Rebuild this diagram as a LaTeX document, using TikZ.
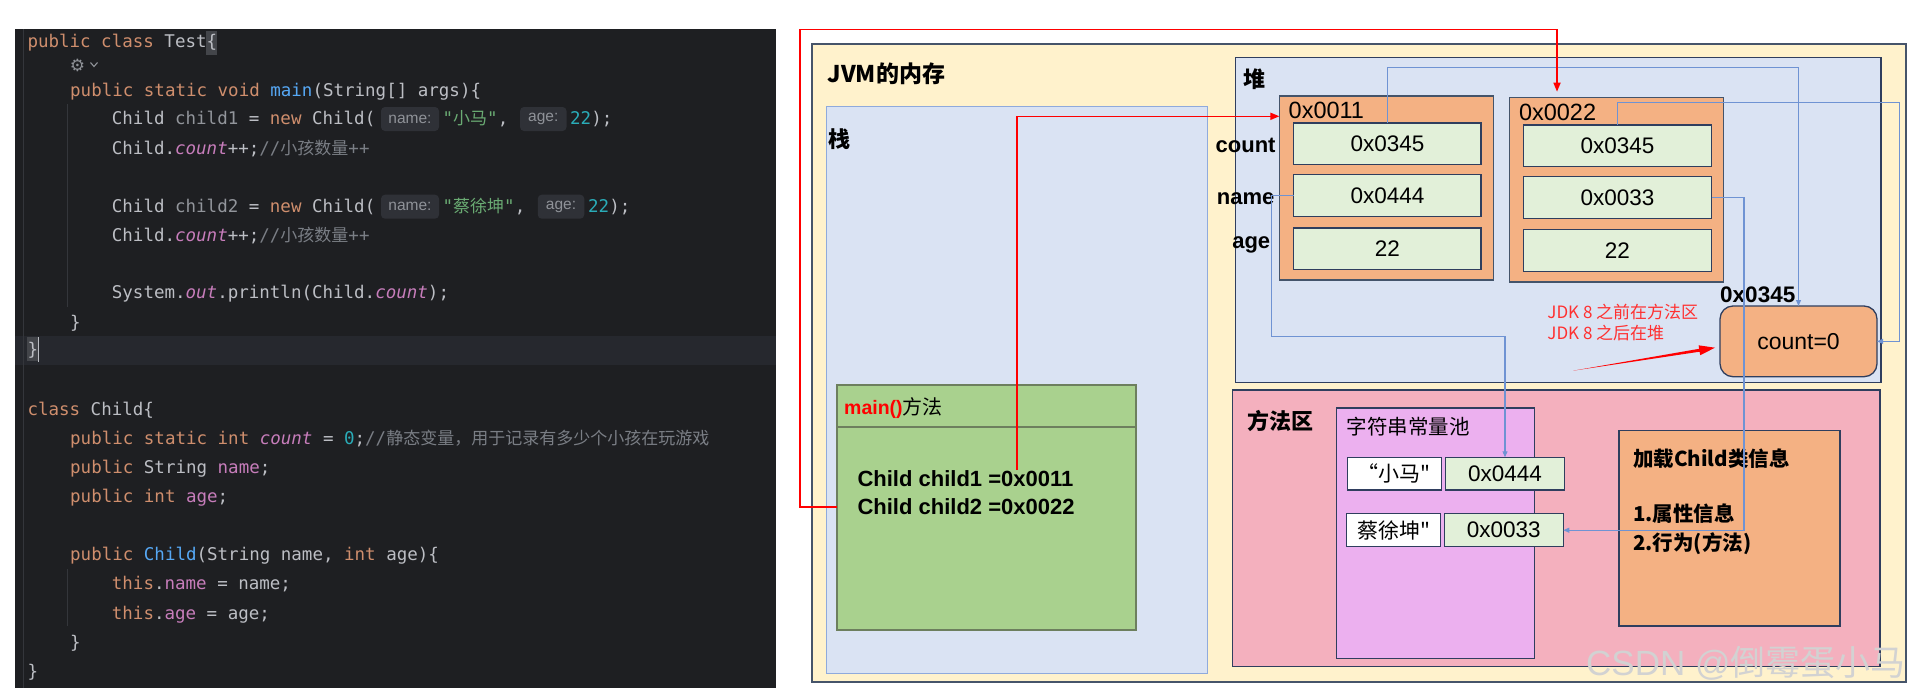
\documentclass[tikz,border=0pt]{standalone}
\usepackage{fontspec}
\setmainfont{Liberation Sans}[Ligatures=TeXOff]
\newfontfamily\cjk{Noto Sans CJK SC}[Ligatures=TeXOff]
\newfontfamily\codefont{DejaVu Sans Mono}[Ligatures=TeXOff]
\newfontfamily\symfont{DejaVu Sans}
\usetikzlibrary{arrows.meta}
% code colours
\definecolor{jbg}{HTML}{1E1F22}
\definecolor{jcur}{HTML}{26282E}
\definecolor{jkw}{HTML}{CF8E6D}
\definecolor{jtx}{HTML}{BCBEC4}
\definecolor{jvar}{HTML}{92959B}
\definecolor{jfn}{HTML}{56A8F5}
\definecolor{jfld}{HTML}{C77DBB}
\definecolor{jstr}{HTML}{6AAB73}
\definecolor{jnum}{HTML}{2AACB8}
\definecolor{jcmt}{HTML}{7A7E85}
\definecolor{jhbg}{HTML}{2F3137}
\definecolor{jhtx}{HTML}{8F9298}
\definecolor{jbr}{HTML}{43454A}
\definecolor{jguide}{HTML}{34363B}
% diagram colours
\definecolor{dyel}{HTML}{FFF2CC}
\definecolor{dyelb}{HTML}{46546A}
\definecolor{dblue}{HTML}{DAE3F3}
\definecolor{dbluel}{HTML}{8FAADC}
\definecolor{dnavy}{HTML}{2F3E5E}
\definecolor{dobj}{HTML}{44546A}
\definecolor{dorange}{HTML}{F4B183}
\definecolor{dgreen}{HTML}{E2F0D9}
\definecolor{dmain}{HTML}{A9D18E}
\definecolor{dmainb}{HTML}{6D7F5E}
\definecolor{dpink}{HTML}{F4B0BE}
\definecolor{dpool}{HTML}{ECB0EF}
\definecolor{dline}{HTML}{6F93D3}
\definecolor{dred}{HTML}{FF0000}
\definecolor{dredt}{HTML}{FF3030}
\definecolor{dwm}{HTML}{D2D2D2}
% code helpers
\newcommand{\ckw}[1]{\textcolor{jkw}{#1}}
\newcommand{\cvar}[1]{\textcolor{jvar}{#1}}
\newcommand{\cfn}[1]{\textcolor{jfn}{#1}}
\newcommand{\cfld}[1]{\textcolor{jfld}{#1}}
\newcommand{\cfldi}[1]{\textcolor{jfld}{\itshape #1}}
\newcommand{\cstr}[1]{\textcolor{jstr}{#1}}
\newcommand{\cnum}[1]{\textcolor{jnum}{#1}}
\newcommand{\ccmt}[1]{\textcolor{jcmt}{#1}}
\newcommand{\zh}[1]{{\cjk\fontsize{17}{21}\selectfont #1}}
\begin{document}
\begin{tikzpicture}[x=1pt,y=-1pt,
  code/.style={anchor=base west,inner sep=0pt,text=jtx,font=\codefont\fontsize{17.5}{21}\selectfont},
  hint/.style={fill=jhbg,rounded corners=4pt,inner sep=0pt,minimum height=24pt,text=jhtx,font=\fontsize{15.5}{16}\selectfont},
  area/.style={draw,anchor=north west,inner sep=0pt,outer sep=0pt},
  field/.style={area,fill=dgreen,draw=dnavy,line width=1.5pt,font=\fontsize{22.5}{24}\selectfont},
  dtext/.style={anchor=base west,inner sep=0pt},
  redline/.style={draw=dred,line width=1.6pt,-{Triangle[length=9pt,width=7pt]}},
  blueline/.style={draw=dline,line width=1.1pt,-{Triangle[length=6pt,width=5pt]}},
]
\useasboundingbox (0,0) rectangle (1919,696);
\fill[white] (0,0) rectangle (1919,696);

% ================= code panel =================
\node[area,draw=none,fill=jbg,minimum width=761pt,minimum height=659pt] (codepanel) at (15,29) {};
\fill[jcur] (15,336) rectangle (776,365);
\draw[jguide,line width=1pt] (23.5,29) -- (23.5,688);
\draw[jguide,line width=1pt] (67.5,104) -- (67.5,307);
\draw[jguide,line width=1pt] (67.5,569) -- (67.5,626);
\fill[jbr] (206.4,31) rectangle (217,55);
\fill[jbr] (27.3,337) rectangle (37.8,361);
\draw[jtx,line width=1pt] (38.3,337) -- (38.3,362);

\node[code] (l0) at (27.3,47.8) {\ckw{public class} Test\{};
\node[inner sep=0pt,text=jhtx,font=\symfont\fontsize{17}{17}\selectfont] (gear) at (77.5,65) {⚙};
\draw[jhtx,line width=1.1pt] (90.5,62.5) -- (94,66.5) -- (97.5,62.5);
\node[code] (l2) at (70,96.2) {\ckw{public static void} \cfn{main}(String[] args)\{};

\node[code] (l3a) at (111.7,124.5) {Child \cvar{child1} = \ckw{new} Child(};
\node[hint,minimum width=58pt] (l3h1) at (410,119) {name:};
\node[code] (l3b) at (442.5,124.5) {\cstr{"\zh{小马}"},};
\node[hint,minimum width=46.5pt] (l3h2) at (543.3,119) {age:};
\node[code] (l3c) at (570,124.5) {\cnum{22});};

\node[code] (l4) at (111.7,154.5) {Child.\cfldi{count}++;\ccmt{//\zh{小孩数量}++}};

\node[code] (l6a) at (111.7,212.2) {Child \cvar{child2} = \ckw{new} Child(};
\node[hint,minimum width=58pt] (l6h1) at (410,206.7) {name:};
\node[code] (l6b) at (442.5,212.2) {\cstr{"\zh{蔡徐坤}"},};
\node[hint,minimum width=46.5pt] (l6h2) at (561,206.7) {age:};
\node[code] (l6c) at (588,212.2) {\cnum{22});};

\node[code] (l7) at (111.7,241.2) {Child.\cfldi{count}++;\ccmt{//\zh{小孩数量}++}};
\node[code] (l9) at (111.7,298.8) {System.\cfldi{out}.println(Child.\cfldi{count});};
\node[code] (l10) at (70,328.2) {\}};
\node[code] (l11) at (27.3,355.5) {\}};
\node[code] (l13) at (27.3,415.5) {\ckw{class} Child\{};
\node[code] (l14) at (70,444.8) {\ckw{public static int} \cfldi{count} = \cnum{0};\ccmt{//\zh{静态变量，用于记录有多少个小孩在玩游戏}}};
\node[code] (l15) at (70,473.2) {\ckw{public} String \cfld{name};};
\node[code] (l16) at (70,502.8) {\ckw{public int} \cfld{age};};
\node[code] (l18) at (70,560.5) {\ckw{public} \cfn{Child}(String name, \ckw{int} age)\{};
\node[code] (l19) at (111.7,589.5) {\ckw{this}.\cfld{name} = name;};
\node[code] (l20) at (111.7,619.5) {\ckw{this}.\cfld{age} = age;};
\node[code] (l21) at (70,648.2) {\}};
\node[code] (l22) at (27.3,677.2) {\}};

% ================= memory diagram =================
\node[area,fill=dyel,draw=dyelb,line width=1.5pt,minimum width=1094pt,minimum height=638pt] (jvm) at (812,44) {};
\node[area,fill=dblue,draw=dbluel,line width=1pt,minimum width=381pt,minimum height=566.6pt] (stack) at (826.4,106.7) {};
\node[area,fill=dblue,draw=dnavy,line width=1.4pt,minimum width=645.7pt,minimum height=325pt] (heap) at (1235.3,57.7) {};
\node[area,fill=dmain,draw=dmainb,line width=1.1pt,minimum width=299pt,minimum height=245pt] (mainb) at (837,385) {};
\coordinate (mdiv) at (0,427);
\draw[dmainb,line width=1.1pt] (mainb.west |- mdiv) -- (mainb.east |- mdiv);
\node[area,fill=dpink,draw=dnavy,line width=1.3pt,minimum width=647.2pt,minimum height=276.7pt] (meth) at (1232.8,390) {};
\node[area,fill=dpool,draw=dnavy,line width=1.3pt,minimum width=197.6pt,minimum height=250.7pt] (pool) at (1336.7,408) {};
\node[area,fill=dorange,draw=dnavy,line width=1.3pt,minimum width=221pt,minimum height=195.3pt] (cls) at (1619,430.7) {};

\node[area,fill=dorange,draw=dobj,line width=1.4pt,minimum width=214.2pt,minimum height=184pt] (obj1) at (1279.4,96) {};
\node[field,minimum width=187.6pt,minimum height=41.3pt] (o1f1) at (1293.6,123) {0x0345};
\node[field,minimum width=187.6pt,minimum height=42pt] (o1f2) at (1293.6,174.7) {0x0444};
\node[field,minimum width=187.6pt,minimum height=41.3pt] (o1f3) at (1293.6,228) {22};
\node[area,fill=dorange,draw=dobj,line width=1.4pt,minimum width=214.2pt,minimum height=184.3pt] (obj2) at (1509.2,97.7) {};
\node[field,minimum width=188.1pt,minimum height=41.7pt] (o2f1) at (1523.4,125) {0x0345};
\node[field,minimum width=188.1pt,minimum height=41.6pt] (o2f2) at (1523.4,176.7) {0x0033};
\node[field,minimum width=188.1pt,minimum height=41.6pt] (o2f3) at (1523.4,229.7) {22};

\node[area,fill=dorange,draw=dnavy,line width=1.3pt,rounded corners=13pt,minimum width=157pt,minimum height=70.7pt,font=\fontsize{23}{24}\selectfont] (cnt) at (1720,306) {count=0};

\node[area,fill=white,draw=dnavy,line width=1.3pt,minimum width=94pt,minimum height=32.7pt,font=\cjk\fontsize{21}{22}\selectfont] (s1k) at (1347.3,457.3) {“小马"};
\node[field,line width=1.3pt,minimum width=119.4pt,minimum height=32.7pt] (s1v) at (1445.3,457.3) {0x0444};
\node[area,fill=white,draw=dnavy,line width=1.3pt,minimum width=94.4pt,minimum height=33pt,font=\cjk\fontsize{21}{22}\selectfont] (s2k) at (1346.3,513.7) {蔡徐坤"};
\node[field,line width=1.3pt,minimum width=119pt,minimum height=33pt] (s2v) at (1444.3,513.7) {0x0033};

% texts
\node[dtext,font=\cjk\bfseries\fontsize{23}{24}\selectfont] (tjvm) at (827.5,82.5) {JVM的内存};
\node[dtext,font=\cjk\bfseries\fontsize{22}{24}\selectfont] (tstack) at (828.6,147.4) {栈};
\node[dtext,font=\cjk\bfseries\fontsize{22}{24}\selectfont] (theap) at (1243.6,87.1) {堆};
\node[dtext,font=\fontsize{23.5}{24}\selectfont] (ta1) at (1288.5,118.5) {0x0011};
\node[dtext,font=\fontsize{23.5}{24}\selectfont] (ta2) at (1518.8,120.2) {0x0022};
\node[anchor=base east,inner sep=0pt,font=\bfseries\fontsize{22}{24}\selectfont] (lcount) at (1275.7,152.5) {count};
\node[anchor=base east,inner sep=0pt,font=\bfseries\fontsize{22}{24}\selectfont] (lname) at (1274.6,204.5) {name};
\node[anchor=base east,inner sep=0pt,font=\bfseries\fontsize{22}{24}\selectfont] (lage) at (1270.4,248) {age};
\node[dtext,font=\bfseries\fontsize{22.5}{24}\selectfont] (tcaddr) at (1720,302) {0x0345};
\node[dtext,text=dredt,font=\cjk\fontsize{17}{18}\selectfont] (tjdk1) at (1547.2,318) {JDK 8 之前在方法区};
\node[dtext,text=dredt,font=\cjk\fontsize{17}{18}\selectfont] (tjdk2) at (1547.2,339) {JDK 8 之后在堆};
\node[dtext] (tmain) at (844,414) {\textcolor{dred}{\bfseries\fontsize{19.5}{22}\selectfont main()}{\cjk\fontsize{20}{22}\selectfont 方法}};
\node[dtext,font=\bfseries\fontsize{22}{24}\selectfont] (tc1) at (857.3,486.2) {Child child1 =0x0011};
\node[dtext,font=\bfseries\fontsize{22}{24}\selectfont] (tc2) at (857.3,514) {Child child2 =0x0022};
\node[dtext,font=\cjk\bfseries\fontsize{22}{24}\selectfont] (tmeth) at (1247,429.8) {方法区};
\node[dtext,font=\cjk\fontsize{20.5}{22}\selectfont] (tpool) at (1346.7,434.3) {字符串常量池};
\node[dtext,font=\cjk\bfseries\fontsize{20.5}{22}\selectfont] (tcls) at (1633,466) {加载Child类信息};
\node[dtext,font=\cjk\bfseries\fontsize{20.5}{22}\selectfont] (tcls1) at (1633,521.6) {1.属性信息};
\node[dtext,font=\cjk\bfseries\fontsize{20.5}{22}\selectfont] (tcls2) at (1633,550) {2.行为(方法)};

% red tapered note arrow
\fill[dred] (1573,370.7) -- (1699.6,351.7) -- (1700.2,355.2) -- (1715,347.7) -- (1698.6,345.3) -- (1699.1,348.8) -- cycle;

% blue connectors
\coordinate (b1y) at (0,67.7);
\coordinate (b2y) at (0,102.3);
\coordinate (b2x) at (1899.5,0);
\coordinate (b3x) at (1271.1,0);
\coordinate (b3y) at (0,336.7);
\coordinate (b4x) at (1744,0);
\draw[blueline] (o1f1.north) -- (o1f1.north |- b1y) -| (cnt.north);
\draw[blueline] (o2f1.north) -- (o2f1.north |- b2y) -- (b2x |- b2y) |- (cnt.east);
\draw[blueline] (o1f2.west) -| (b3x |- b3y) -| (s1v.north);
\draw[blueline] (o2f2.east) -| (b4x |- s2v.east) -- (s2v.east);

% red connectors
\coordinate (r1y) at (0,507);
\coordinate (rleft) at (800,29.3);
\coordinate (rright) at (1557,29.3);
\coordinate (r2s) at (1017,470);
\coordinate (r2y) at (0,116.3);
\draw[redline,shorten >=6pt] (mainb.west |- r1y) -| (rleft) -- (rright) -- (rright |- obj2.north);
\draw[redline] (r2s) |- (obj1.west |- r2y);

% watermark
\node[dtext,text=dwm] (wm) at (1586,675) {\fontsize{35}{36}\selectfont CSDN @{\cjk 倒霉蛋小马}};
\end{tikzpicture}
\end{document}
